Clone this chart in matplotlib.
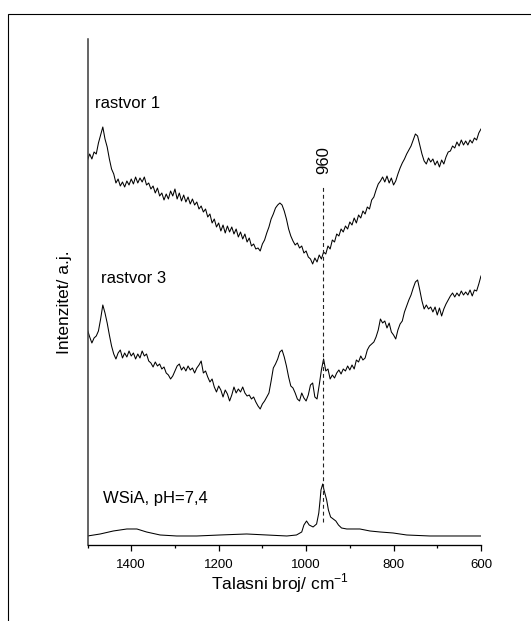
"""
plot.py — Raman spectra of rastvor 1 / rastvor 3 against the WSiA reference.
Saves out.png
"""

import matplotlib
matplotlib.use("Agg")
import matplotlib.pyplot as plt
from matplotlib.patches import Rectangle

# ── Data ────────────────────────────────────────
# common wavenumber grid of the two solution spectra (cm-1)
wavenumber = [
    1500, 1495, 1490, 1485, 1480, 1475, 1470, 1465, 1460, 1455,
    1450, 1445, 1440, 1435, 1430, 1425, 1420, 1415, 1410, 1405,
    1400, 1395, 1390, 1385, 1380, 1375, 1370, 1365, 1360, 1355,
    1350, 1345, 1340, 1335, 1330, 1325, 1320, 1315, 1310, 1305,
    1300, 1295, 1290, 1285, 1280, 1275, 1270, 1265, 1260, 1255,
    1250, 1245, 1240, 1235, 1230, 1225, 1220, 1215, 1210, 1205,
    1200, 1195, 1190, 1185, 1180, 1175, 1170, 1165, 1160, 1155,
    1150, 1145, 1140, 1135, 1130, 1125, 1120, 1115, 1110, 1105,
    1100, 1095, 1090, 1085, 1080, 1075, 1070, 1065, 1060, 1055,
    1050, 1045, 1040, 1035, 1030, 1025, 1020, 1015, 1010, 1005,
    1000, 995, 990, 985, 980, 975, 970, 965, 960, 955,
    950, 945, 940, 935, 930, 925, 920, 915, 910, 905,
    900, 895, 890, 885, 880, 875, 870, 865, 860, 855,
    850, 845, 840, 835, 830, 825, 820, 815, 810, 805,
    800, 795, 790, 785, 780, 775, 770, 765, 760, 755,
    750, 745, 740, 735, 730, 725, 720, 715, 710, 705,
    700, 695, 690, 685, 680, 675, 670, 665, 660, 655,
    650, 645, 640, 635, 630, 625, 620, 615, 610, 605,
    600,
]

rastvor_1 = [
    385, 391, 386, 393, 391, 402, 410, 418, 406, 398,
    386, 376, 371, 362, 366, 359, 363, 358, 364, 360,
    366, 361, 368, 362, 367, 363, 368, 360, 362, 356,
    359, 352, 357, 349, 352, 345, 351, 346, 354, 349,
    356, 346, 352, 344, 350, 343, 348, 341, 346, 340,
    343, 336, 339, 333, 336, 328, 331, 322, 326, 318,
    322, 314, 320, 312, 319, 313, 318, 311, 316, 308,
    313, 306, 311, 303, 307, 299, 301, 296, 297, 294,
    301, 305, 312, 318, 326, 331, 337, 340, 342, 340,
    334, 326, 316, 309, 304, 300, 302, 297, 299, 292,
    294, 288, 286, 281, 287, 283, 290, 286, 293, 291,
    299, 296, 305, 303, 311, 309, 316, 313, 319, 316,
    323, 320, 327, 322, 330, 327, 334, 331, 338, 336,
    345, 348, 355, 361, 364, 368, 363, 369, 362, 367,
    360, 364, 371, 377, 382, 386, 391, 395, 399, 405,
    411, 409, 400, 391, 384, 381, 387, 383, 386, 380,
    384, 378, 385, 381, 388, 393, 394, 399, 397, 403,
    399, 405, 400, 404, 400, 405, 402, 407, 405, 412,
    416,
]

rastvor_3 = [
    215, 208, 202, 207, 209, 214, 226, 240, 232, 222,
    210, 199, 191, 186, 192, 195, 187, 192, 188, 194,
    189, 192, 186, 191, 187, 194, 189, 191, 184, 182,
    178, 183, 179, 181, 176, 178, 172, 170, 166, 169,
    174, 179, 181, 175, 178, 174, 179, 175, 177, 172,
    177, 180, 184, 172, 174, 168, 163, 166, 158, 153,
    159, 155, 148, 155, 151, 144, 150, 158, 152, 156,
    153, 158, 152, 149, 150, 146, 148, 143, 139, 136,
    141, 144, 148, 152, 164, 177, 181, 186, 193, 195,
    188, 179, 168, 159, 157, 152, 146, 144, 152, 147,
    144, 150, 160, 162, 148, 146, 160, 175, 186, 174,
    176, 166, 170, 167, 172, 175, 171, 176, 174, 179,
    175, 180, 176, 185, 183, 189, 185, 187, 195, 199,
    201, 203, 208, 215, 226, 222, 224, 217, 222, 213,
    210, 206, 215, 221, 224, 233, 239, 245, 250, 257,
    263, 265, 255, 244, 236, 240, 236, 238, 233, 238,
    230, 237, 229, 236, 241, 245, 249, 252, 248, 252,
    249, 254, 250, 253, 250, 255, 249, 255, 254, 261,
    269,
]

# WSiA reference spectrum (smooth, own sampling)
wsia_wavenumber = [1500, 1471, 1441, 1410, 1387, 1365, 1334, 1296, 1250, 1197,
                   1136, 1090, 1044, 1022, 1010, 1005, 999, 993, 984, 976,
                   971, 968, 966, 962, 959, 953, 949, 944, 938, 932,
                   926, 919, 907, 877, 854, 831, 801, 770, 717, 600]
wsia = [9, 11, 14, 16, 16, 13, 10, 9, 9, 10,
        11, 10, 9, 10, 13, 20, 24, 20, 18, 21,
        32, 45, 55, 61, 55, 45, 35, 28, 26, 24,
        20, 17, 16, 16, 14, 13, 12, 10, 9, 9]

marker_pos = 962
marker_label = "960"

# ── Figure ──────────────────────────────────────
plt.rcParams["font.family"] = ["Liberation Sans", "DejaVu Sans"]
plt.rcParams["mathtext.fontset"] = "custom"
plt.rcParams["mathtext.rm"] = "Liberation Sans"

fig = plt.figure(figsize=(5.31, 6.21), dpi=100)
ax = fig.add_axes([0.1648, 0.1216, 0.7410, 0.8164])

ax.plot(wavenumber, rastvor_1, color="black", linewidth=0.75)
ax.plot(wavenumber, rastvor_3, color="black", linewidth=0.75)
ax.plot(wsia_wavenumber, wsia, color="black", linewidth=0.75)

# dashed marker through all spectra
ax.plot([marker_pos, marker_pos], [23, 358], color="#222222", linewidth=0.8,
        dashes=(3.5, 2.7))
ax.text(marker_pos - 3, 385, marker_label, rotation=90, ha="center", va="center",
        fontsize=12)

ax.text(1483, 441, "rastvor 1", ha="left", va="center", fontsize=12)
ax.text(1470, 266, "rastvor 3", ha="left", va="center", fontsize=12)
ax.text(1465, 46, "WSiA, pH=7,4", ha="left", va="center", fontsize=12)

ax.set_xlim(1500, 600)
ax.set_ylim(-0.5, 506.5)

ax.set_xticks([1400, 1200, 1000, 800, 600])
ax.set_xticks([1500, 1300, 1100, 900, 700], minor=True)
ax.set_yticks([])
ax.tick_params(axis="x", which="major", length=4.3, width=0.9, pad=5.5,
               labelsize=9.5, direction="out")
ax.tick_params(axis="x", which="minor", length=2.4, width=0.9, direction="out")

ax.set_xlabel(r"Talasni broj/ cm$^{\mathregular{-1}}$", fontsize=12.5)
ax.xaxis.set_label_coords(0.49, -0.052)
ax.set_ylabel("Intenzitet/ a.j.", fontsize=12.5)
ax.yaxis.set_label_coords(-0.039, 0.48)

for side in ("top", "right"):
    ax.spines[side].set_visible(False)
ax.spines["bottom"].set_linewidth(0.95)
ax.spines["left"].set_linewidth(1.1)
ax.spines["left"].set_color("#3a3a3a")

# outer frame (only left and top edges fall inside the picture)
fig.add_artist(Rectangle((8 / 531, -0.2), 1.5, 1.2 - 14 / 621,
                         transform=fig.transFigure, fill=False,
                         edgecolor="black", linewidth=0.8))

fig.savefig("out.png", dpi=100)
print("Saved to out.png")
